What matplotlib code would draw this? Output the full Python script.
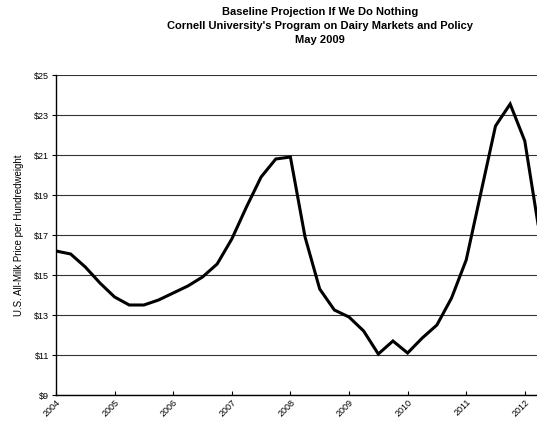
import numpy as np
import matplotlib
matplotlib.use("Agg")
from matplotlib import pyplot as plt

plt.rcParams['font.family'] = ['Liberation Sans', 'DejaVu Sans']

# quarterly all-milk price, $/cwt, starting Q1 2004
start_year = 2004
prices = [16.2, 16.05, 15.4, 14.6, 13.9, 13.5, 13.5, 13.75,
          14.1, 14.45, 14.9, 15.55, 16.8, 18.4, 19.9, 20.8,
          20.9, 16.9, 14.3, 13.25, 12.9, 12.2, 11.05, 11.7,
          11.1, 11.85, 12.5, 13.85, 15.75, 19.1, 22.45, 23.55,
          21.7, 17.1]
year_ticks = list(range(2004, 2013))
price_ticks = [9, 11, 13, 15, 17, 19, 21, 23, 25]

title_lines = ["Baseline Projection If We Do Nothing",
               "Cornell University's Program on Dairy Markets and Policy",
               "May 2009"]
y_label = "U.S. All-Milk Price per Hundredweight"

quarters = start_year + np.arange(len(prices)) / 4.0

fig = plt.figure(figsize=(5.37, 4.25), dpi=100)
ax = fig.add_axes([56 / 537, 30 / 425, 481 / 537, 320 / 425])

ax.set_ylim(9, 25)
ax.set_xlim(2004, 2004 + 481 / 58.6)
ax.set_yticks(price_ticks)
ax.set_yticklabels([f"${p}" for p in price_ticks], fontsize=6.5)
ax.set_xticks(year_ticks)
ax.set_xticklabels([str(y) for y in year_ticks], fontsize=6.5,
                   rotation=45, ha='right', va='top', rotation_mode='anchor')
ax.tick_params(axis='both', length=3, width=0.8, direction='out', pad=2)
ax.tick_params(axis='x', direction='in', length=3)

ax.grid(axis='y', color='#333333', linewidth=0.8)
ax.set_axisbelow(True)
for side in ['top', 'right']:
    ax.spines[side].set_visible(False)
for side in ['left', 'bottom']:
    ax.spines[side].set_color('black')
    ax.spines[side].set_linewidth(1.0)

ax.plot(quarters, prices, color='black', linewidth=2.2, solid_joinstyle='miter')

ax.set_ylabel(y_label, fontsize=7)
ax.yaxis.set_label_coords(-32 / 481, 0.5)

fig.text(320 / 537, 1 - 7 / 425, "\n".join(title_lines), ha='center', va='top',
         fontsize=8, fontweight='bold', linespacing=1.5)

fig.savefig("out.png", dpi=100)
